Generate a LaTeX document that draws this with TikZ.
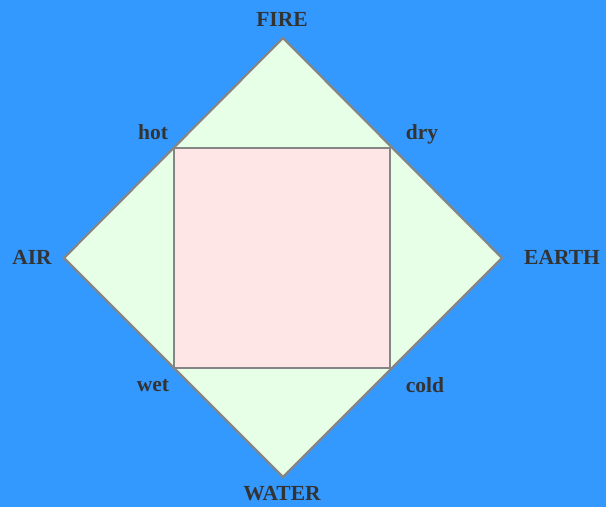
\documentclass[tikz,border=0pt]{standalone}
\usepackage{fontspec}
\setmainfont{Liberation Serif}
\definecolor{bgblue}{HTML}{3399FF}
\definecolor{lgreen}{HTML}{E6FFE6}
\definecolor{lpink}{HTML}{FFE6E6}
\definecolor{edge}{HTML}{858585}
\definecolor{txt}{HTML}{333333}
\begin{document}
\begin{tikzpicture}[x=1pt,y=-1pt,
  lbl/.style={text=txt,font=\bfseries\fontsize{21.5}{21.5}\selectfont,inner sep=0pt},
  shapeline/.style={draw=edge,line width=2.2pt,line join=miter}]
\fill[bgblue] (0,0) rectangle (606,507);
\useasboundingbox (0,0) rectangle (606,507);
\coordinate (F) at (283,38);
\coordinate (E) at (502,258);
\coordinate (W) at (283,477);
\coordinate (A) at (64,258);
\coordinate (h) at (174,148);
\coordinate (d) at (390,148);
\coordinate (c) at (390,368);
\coordinate (w) at (174,368);
\draw[shapeline,fill=lgreen] (F) -- (E) -- (W) -- (A) -- cycle;
\draw[shapeline,fill=lpink] (h) -- (d) -- (c) -- (w) -- cycle;
\node[lbl] (fire) at (282,19) {FIRE};
\node[lbl] (air) at (32,257) {AIR};
\node[lbl,anchor=west] (earth) at (524,257) {EARTH};
\node[lbl] (water) at (282,494) {WATER};
\node[lbl] (hot) at (153,132) {hot};
\node[lbl] (dry) at (422,134) {dry};
\node[lbl] (wet) at (153,386) {wet};
\node[lbl] (cold) at (425,385) {cold};
\end{tikzpicture}
\end{document}
